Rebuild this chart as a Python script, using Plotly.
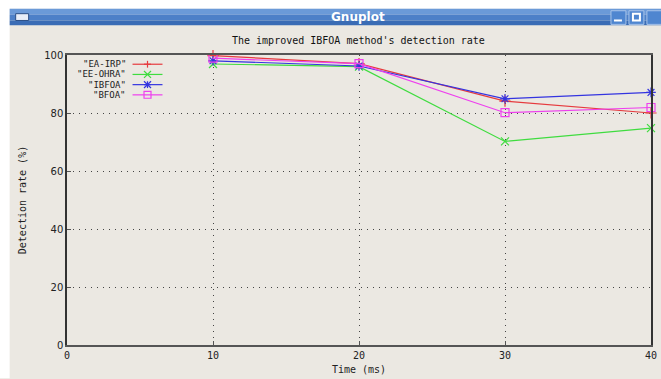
import plotly.graph_objects as go

time_ms = [10, 20, 30, 40]
ea_irp = [99.8, 97.0, 84.1, 80.0]
ee_ohra = [96.9, 96.0, 70.2, 74.8]
ibfoa = [98.0, 96.2, 84.9, 87.1]
bfoa = [98.9, 97.0, 80.1, 81.9]

series_names = ['"EA-IRP"', '"EE-OHRA"', '"IBFOA"', '"BFOA"']
x_ticks = [0, 10, 20, 30, 40]
y_ticks = [0, 20, 40, 60, 80, 100]

# design in target pixels; figure slightly enlarged to compensate viewer scaling
S = 1 / 0.991
TW, TH = 661, 379
W, H = round(TW * S), round(TH * S) + 2
tL, tR, tT, tB = 66, 651, 55, 353  # plot box in target pixels
L, T = round(tL * S), round(tT * S)
R, B = W - round(tR * S), H - round(tB * S)
pw, ph = W - L - R, H - T - B

def px(x):
    return (x * S - L) / pw

def py(y):
    return (H - B - y * S) / ph

styles = [
    ("#e63a3e", "cross-thin", "plus"),
    ("#3fdc3f", "x-thin", "x"),
    ("#3434e0", "asterisk", "star"),
    ("#ee40ee", "square-open", "square"),
]

fig = go.Figure()
for name, vals, (col, sym, _) in zip(series_names, [ea_irp, ee_ohra, ibfoa, bfoa], styles):
    fig.add_trace(go.Scatter(
        x=time_ms, y=vals, name=name, mode="lines+markers", cliponaxis=False,
        line=dict(color=col, width=1.2),
        marker=dict(symbol=sym, size=8, color=col, line=dict(color=col, width=1.2)),
        showlegend=False,
    ))

font_mono = "DejaVu Sans Mono"

def seg(x0, y0, x1, y1, col, w=1.2):
    return dict(type="line", xref="paper", yref="paper", x0=px(x0), x1=px(x1),
                y0=py(y0), y1=py(y1), line=dict(color=col, width=w))

shapes = [
    dict(type="rect", xref="paper", yref="paper", x0=px(-2), x1=px(9), y0=py(TH + 8), y1=py(-2),
         fillcolor="white", line=dict(width=0), layer="below"),
    dict(type="rect", xref="paper", yref="paper", x0=px(-2), x1=px(TW + 5), y0=py(7), y1=py(-2),
         fillcolor="white", line=dict(width=0), layer="below"),
    dict(type="rect", xref="paper", yref="paper", x0=px(9), x1=px(TW + 5), y0=py(13), y1=py(7),
         fillcolor="#6b9ad8", line=dict(width=0)),
    dict(type="rect", xref="paper", yref="paper", x0=px(9), x1=px(TW + 5), y0=py(19), y1=py(13),
         fillcolor="#4d80c8", line=dict(width=0)),
    dict(type="rect", xref="paper", yref="paper", x0=px(9), x1=px(TW + 5), y0=py(24), y1=py(19),
         fillcolor="#3a6cb5", line=dict(width=0)),
    dict(type="rect", xref="paper", yref="paper", x0=px(15), x1=px(28), y0=py(19), y1=py(12),
         fillcolor="#e8eef8", line=dict(color="#2b4f86", width=1)),
    dict(type="rect", xref="paper", yref="paper", x0=px(611), x1=px(626), y0=py(23), y1=py(9),
         fillcolor="#4f86d0", line=dict(color="#a8c4ea", width=1)),
    dict(type="rect", xref="paper", yref="paper", x0=px(629), x1=px(644), y0=py(23), y1=py(9),
         fillcolor="#4f86d0", line=dict(color="#a8c4ea", width=1)),
    dict(type="rect", xref="paper", yref="paper", x0=px(647), x1=px(663), y0=py(23), y1=py(9),
         fillcolor="#4f86d0", line=dict(color="#a8c4ea", width=1)),
    seg(614, 19, 622, 19, "white", 2),
    dict(type="rect", xref="paper", yref="paper", x0=px(633), x1=px(640), y0=py(19), y1=py(12),
         line=dict(color="white", width=2)),
]

annotations = [
    dict(text="<b>Gnuplot</b>", xref="paper", yref="paper", x=px(358), y=py(15.5),
         showarrow=False, font=dict(family="DejaVu Sans", size=12, color="white"),
         xanchor="center", yanchor="middle"),
    dict(text="The improved IBFOA method's detection rate", xref="paper", yref="paper",
         x=px(358), y=py(40), showarrow=False, font=dict(family=font_mono, size=10, color="#111"),
         xanchor="center", yanchor="middle"),
]

# gnuplot-style key: right-aligned text, then line sample with point
key_rows = [64, 74.5, 85, 95.5]
cx, r = 147, 3.5
for name, (col, sym, kind), ry in zip(series_names, styles, key_rows):
    annotations.append(dict(text=name, xref="paper", yref="paper", x=px(127), y=py(ry),
                            showarrow=False, xanchor="right", yanchor="middle",
                            font=dict(family=font_mono, size=9, color="#222")))
    shapes.append(seg(132, ry, 162, ry, col))
    if kind in ("plus", "star"):
        shapes.append(seg(cx, ry - r, cx, ry + r, col))
        shapes.append(seg(cx - r, ry, cx + r, ry, col))
    if kind in ("x", "star"):
        shapes.append(seg(cx - r, ry - r, cx + r, ry + r, col))
        shapes.append(seg(cx - r, ry + r, cx + r, ry - r, col))
    if kind == "square":
        shapes.append(dict(type="rect", xref="paper", yref="paper", x0=px(cx - r), x1=px(cx + r),
                           y0=py(ry + r), y1=py(ry - r), line=dict(color=col, width=1.2)))

fig.update_layout(
    width=W, height=H,
    margin=dict(l=L, r=R, t=T, b=B),
    paper_bgcolor="#ebe8e2", plot_bgcolor="#ebe8e2",
    font=dict(family=font_mono, size=10, color="#222"),
    shapes=shapes,
    annotations=annotations,
    showlegend=False,
    xaxis=dict(range=[0, 40], tickvals=x_ticks, ticktext=[str(v) for v in x_ticks],
               showgrid=True, gridcolor="#444", griddash="1px,5px", gridwidth=1,
               showline=True, linecolor="#555", linewidth=1.5, mirror=True,
               zeroline=False, ticks="inside", ticklen=4, tickcolor="#555",
               tickfont=dict(family=font_mono, size=10, color="#222"),
               title=dict(text="Time (ms)", standoff=6, font=dict(family=font_mono, size=10, color="#222"))),
    yaxis=dict(range=[0, 100], tickvals=y_ticks, ticktext=[str(v) for v in y_ticks],
               showgrid=True, gridcolor="#444", griddash="1px,5px", gridwidth=1,
               showline=True, linecolor="#333", linewidth=1.5, mirror=True,
               zeroline=False, ticks="inside", ticklen=4, tickcolor="#555",
               tickfont=dict(family="DejaVu Sans", size=10, color="#222"),
               title=dict(text="Detection rate (%)", standoff=16, font=dict(family=font_mono, size=10, color="#222"))),
)

fig.write_html("out.html")
